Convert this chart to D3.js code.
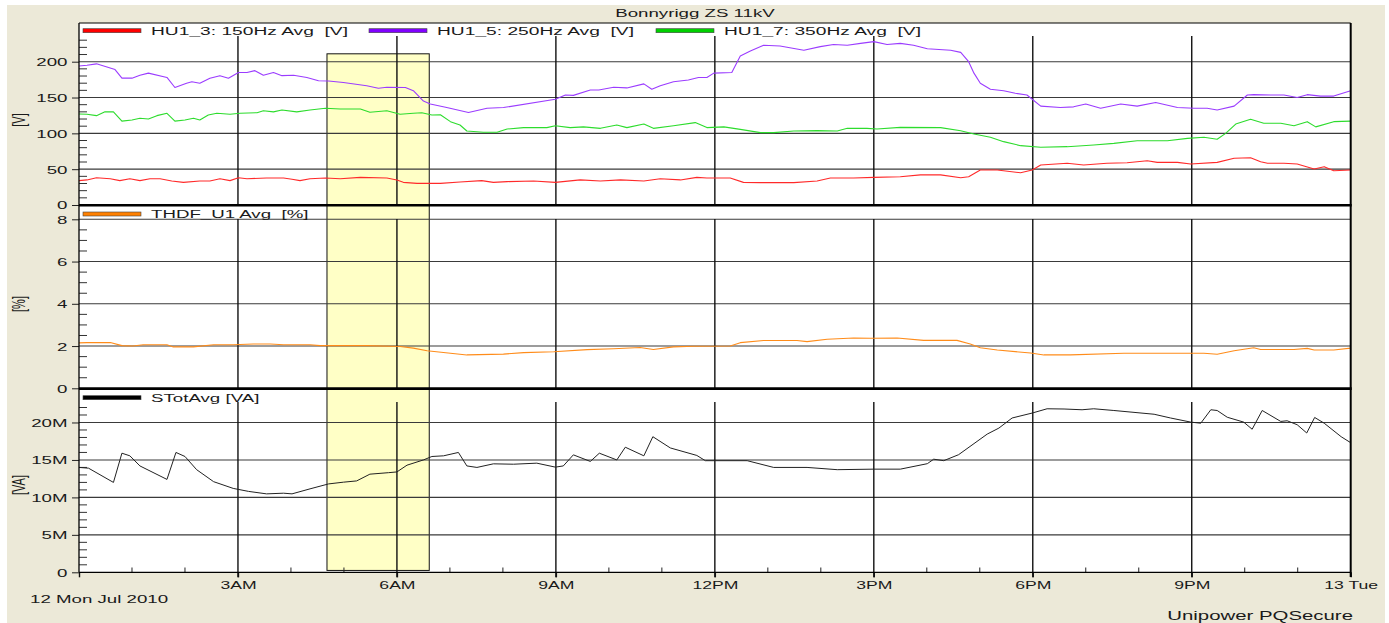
<!DOCTYPE html>
<html>
<head>
<meta charset="utf-8">
<script src="https://cdn.jsdelivr.net/npm/d3@7"></script>
<style>
  body { margin: 0; background: #ffffff; }
  text { font-family: "Liberation Sans", Arial, sans-serif; font-size: 11px; fill: #1a1a1a; white-space: pre; }
</style>
</head>
<body>
<svg id="chart" width="1389" height="623"></svg>
<script>
// ---------------- DATA ----------------
const chartTitle = "Bonnyrigg ZS 11kV";
const startLabel = "12 Mon Jul 2010";
const footer = "Unipower PQSecure";
const xTickLabels = ["", "3AM", "6AM", "9AM", "12PM", "3PM", "6PM", "9PM", "13 Tue"];
const xTickHours = [0, 3, 6, 9, 12, 15, 18, 21, 24];

const voltageLegend = ["HU1_3: 150Hz Avg\u00a0\u00a0[V]", "HU1_5: 250Hz Avg\u00a0\u00a0[V]", "HU1_7: 350Hz Avg\u00a0\u00a0[V]"];
const thdLegend = "THDF_U1 Avg\u00a0\u00a0[%]";
const powerLegend = "STotAvg [VA]";

const voltageTicks = [0, 50, 100, 150, 200];
const thdTicks = [0, 2, 4, 6, 8];
const powerTicks = [0, 5e6, 10e6, 15e6, 20e6];

// highlighted interval (hours since midnight)
const highlightHours = [4.68, 6.61];

// [hour, volts]
const hu1_3 = [[0,34],[0.15,35],[0.33,38],[0.59,36.7],[0.77,34],[0.96,36.7],[1.15,34],[1.34,36.7],[1.53,36.7],[1.75,33.5],[1.97,31.6],[2.28,33.5],[2.47,33.5],[2.66,36.7],[2.85,34],[3.01,38],[3.17,36.7],[3.54,37.7],[3.86,37.7],[4.02,36],[4.17,34],[4.36,36.7],[4.65,37.7],[4.93,36.7],[5.31,38.6],[5.81,37.7],[6.0,35],[6.12,31.6],[6.38,30.2],[6.82,30.2],[7.19,32],[7.6,34],[7.82,31.6],[8.08,32.6],[8.58,33.5],[8.99,31.6],[9.46,35],[9.84,33.5],[10.22,35],[10.66,33.5],[10.97,36.7],[11.35,35],[11.66,38.6],[11.85,37.7],[12.29,37.7],[12.54,31.6],[12.86,31.2],[13.49,31.2],[13.93,33.5],[14.18,37.7],[14.62,37.7],[15.0,38.6],[15.5,39.5],[15.88,42],[16.26,42],[16.64,38],[16.79,39.5],[17.01,48.8],[17.33,48.8],[17.77,45],[17.99,48.8],[18.15,55.8],[18.65,58.2],[18.96,55.8],[19.4,58.2],[19.78,59],[20.16,61.8],[20.35,59.5],[20.73,59.5],[20.98,57.2],[21.48,59.5],[21.8,65.2],[22.11,66],[22.3,60.4],[22.43,58.2],[22.74,58.2],[22.99,57.2],[23.31,50.2],[23.5,53.5],[23.68,47.9],[24,48.8]];

const hu1_5 = [[0,194],[0.15,195],[0.33,197],[0.68,189],[0.81,177],[1.0,177],[1.15,181],[1.31,184],[1.66,178],[1.81,164],[2.03,170],[2.13,172],[2.28,170],[2.47,177],[2.66,180.5],[2.82,177],[3.01,185],[3.17,185],[3.32,187.5],[3.48,181],[3.67,185],[3.83,180.5],[4.05,181],[4.3,178],[4.52,173.5],[4.71,173],[4.99,171],[5.43,166.5],[5.65,163],[5.81,164.3],[6.16,164],[6.31,159.5],[6.5,145],[6.63,141],[6.94,136],[7.35,129],[7.7,135],[8.01,136],[8.99,147.5],[9.18,153.5],[9.33,153],[9.65,160.5],[9.81,160.5],[10.09,164.3],[10.34,163.4],[10.66,169],[10.81,161.5],[10.97,166.5],[11.22,172],[11.5,174.5],[11.69,178],[11.85,178],[11.98,184],[12.32,185],[12.48,208],[12.67,215],[12.92,223],[13.23,222],[13.68,216],[13.99,221],[14.24,224],[14.5,223],[14.75,225.6],[15.0,228],[15.25,224],[15.5,225.6],[15.75,223],[16.01,218],[16.45,216],[16.64,213],[16.79,200],[16.89,184],[17.01,170],[17.2,161.5],[17.45,159.5],[17.67,156],[17.89,153.5],[18.15,138],[18.52,136],[18.77,137],[19.0,141],[19.28,135],[19.66,141],[19.97,138],[20.32,143],[20.73,136],[21.04,135],[21.29,135],[21.48,132.6],[21.8,138],[22.05,153.5],[22.17,154],[22.49,153.5],[22.74,153.5],[22.99,150],[23.18,154],[23.43,152],[23.68,152],[24,159.5]];

const hu1_7 = [[0,127],[0.15,126.6],[0.33,124.7],[0.49,130],[0.65,130],[0.81,117],[1.0,118.6],[1.15,121],[1.31,120],[1.47,124.7],[1.66,128],[1.81,117],[2.0,118.6],[2.16,121],[2.28,118.6],[2.44,125.6],[2.6,128],[2.85,126.6],[3.04,128],[3.36,128.8],[3.48,131.6],[3.67,130],[3.83,132.6],[4.11,130],[4.36,132.6],[4.65,135],[4.93,134],[5.31,134],[5.49,129.4],[5.81,131.6],[6.06,126.6],[6.31,128],[6.47,128.8],[6.66,125.6],[6.82,126],[7.01,116.3],[7.19,111.7],[7.32,103.3],[7.63,101.5],[7.89,101.5],[8.08,106],[8.39,108],[8.83,108],[8.99,110.7],[9.27,108],[9.52,109],[9.84,107],[10.15,111.7],[10.34,108],[10.66,113],[10.84,107],[11.22,110.7],[11.63,115],[11.85,108],[12.17,109],[12.48,105.6],[12.86,101],[13.11,101],[13.49,103.3],[13.93,103.8],[14.31,103.3],[14.5,107],[14.87,107],[15.06,106],[15.5,108.4],[16.26,108],[16.64,103.7],[16.89,99],[17.2,94.5],[17.45,88.4],[17.77,82.8],[18.15,80.5],[18.65,81.4],[19.15,83.7],[19.53,86],[19.97,89.7],[20.54,89.7],[20.92,93],[21.23,94.5],[21.48,91.7],[21.64,100],[21.83,113],[22.11,119.6],[22.36,114],[22.68,114],[22.93,110.7],[23.18,116.3],[23.34,109],[23.68,116.3],[24,117]];

// [hour, %]
const thdfU1 = [[0,2.15],[0.15,2.16],[0.59,2.17],[0.81,2.02],[1.02,2.0],[1.21,2.06],[1.66,2.06],[1.78,1.96],[2.16,1.96],[2.54,2.06],[2.91,2.06],[3.29,2.1],[3.61,2.1],[3.86,2.06],[4.36,2.06],[4.55,2.02],[5.43,2.02],[6.06,1.98],[6.31,1.9],[6.57,1.78],[7.01,1.66],[7.32,1.58],[8.01,1.62],[8.39,1.69],[8.96,1.73],[9.59,1.83],[10.09,1.87],[10.59,1.93],[10.84,1.84],[11.22,1.96],[11.6,1.99],[12.29,2.0],[12.48,2.16],[12.92,2.26],[13.55,2.26],[13.74,2.21],[14.12,2.32],[14.62,2.38],[14.94,2.37],[15.44,2.38],[15.94,2.27],[16.57,2.27],[16.82,2.1],[17.01,1.92],[17.33,1.81],[17.96,1.67],[18.21,1.58],[18.71,1.58],[19.72,1.66],[21.23,1.66],[21.48,1.61],[21.8,1.78],[22.17,1.92],[22.3,1.84],[22.93,1.84],[23.18,1.89],[23.31,1.81],[23.68,1.81],[24,1.9]];

// [hour, MVA]
const sTotAvg = [[0,14.0],[0.18,13.9],[0.65,12.0],[0.81,15.9],[0.96,15.55],[1.15,14.2],[1.66,12.4],[1.83,16.0],[2.0,15.46],[2.22,13.7],[2.54,12.1],[2.91,11.2],[3.2,10.8],[3.54,10.47],[3.86,10.56],[4.02,10.47],[4.36,11.14],[4.71,11.8],[4.99,12.03],[5.24,12.2],[5.49,13.1],[5.84,13.3],[6.0,13.4],[6.19,14.3],[6.5,15.0],[6.66,15.46],[6.88,15.55],[7.16,16.0],[7.32,14.2],[7.51,14.0],[7.82,14.48],[8.2,14.43],[8.64,14.57],[8.99,14.04],[9.14,14.2],[9.33,15.68],[9.65,14.8],[9.82,15.9],[10.15,15.0],[10.31,16.7],[10.66,15.55],[10.83,18.1],[11.16,16.6],[11.66,15.6],[11.82,14.9],[12.61,14.9],[13.11,14.0],[13.74,14.0],[14.31,13.7],[15.0,13.77],[15.5,13.77],[16.01,14.5],[16.13,15.1],[16.32,14.9],[16.6,15.7],[17.14,18.45],[17.36,19.25],[17.61,20.6],[17.99,21.26],[18.27,21.83],[18.59,21.8],[18.93,21.7],[19.15,21.83],[19.53,21.6],[20.29,21.1],[20.6,20.6],[20.98,20.05],[21.17,19.9],[21.36,21.7],[21.48,21.6],[21.67,20.7],[21.98,20.05],[22.14,19.1],[22.33,21.6],[22.68,20.14],[22.8,20.23],[22.99,19.7],[23.17,18.6],[23.32,20.67],[23.5,19.9],[23.82,18.1],[24,17.3]];

// ---------------- LAYOUT / STYLE ----------------
const SX = 1.7;   // horizontal stretch of the text, as in the reference
const SXT = 1.6;  // stretch of the time-axis labels
const L = 79, R = 1350.7;
const svg = d3.select("#chart");

const base = new Date(2010, 6, 12, 0, 0, 0);
const toDate = h => new Date(base.getTime() + h * 3600000);
const x = d3.scaleTime().domain([toDate(0), toDate(24)]).range([L, R]);

const yV = d3.scaleLinear().domain([0, 254]).range([205, 23]);
const yP = d3.scaleLinear().domain([0, 8.63]).range([388.3, 206]);
const yS = d3.scaleLinear().domain([0, 24.47e6]).range([572.3, 389]);

function label(g, px, py, str, anchor, rotate, size) {
  return g.append("text")
    .attr("transform", `translate(${px},${py}) scale(${SX},1)` + (rotate ? " rotate(-90)" : ""))
    .attr("text-anchor", anchor || "start")
    .style("font-size", (size || 11) + "px")
    .text(str);
}

// background
svg.append("rect").attr("x", 0).attr("y", 0).attr("width", 1389).attr("height", 623).attr("fill", "#ffffff");
svg.append("rect").attr("x", 7).attr("y", 5).attr("width", 1378).attr("height", 618).attr("fill", "#ECE9D8");
svg.append("rect").attr("x", L).attr("y", 23).attr("width", R - L).attr("height", 572.3 - 23).attr("fill", "#ffffff");

// highlight
svg.append("rect")
  .attr("x", x(toDate(highlightHours[0])))
  .attr("y", yV(211))
  .attr("width", x(toDate(highlightHours[1])) - x(toDate(highlightHours[0])))
  .attr("height", yS(0.25e6) - yV(211))
  .attr("fill", "#FFFFC6").attr("stroke", "#111").attr("stroke-width", 1);

const panels = [
  { y: yV, ticks: voltageTicks, minor: d3.range(10, 254, 10), gridTop: 36, fmt: d => String(d), unit: "[V]", unitY: 120 },
  { y: yP, ticks: thdTicks, minor: d3.range(0.5, 8.6, 0.5), gridTop: 219, fmt: d => String(d), unit: "[%]", unitY: 304 },
  { y: yS, ticks: powerTicks, minor: d3.range(1e6, 24.4e6, 1e6), gridTop: 402, fmt: d => d === 0 ? "0" : (d / 1e6) + "M", unit: "[VA]", unitY: 485 }
];

const grid = svg.append("g");
const axes = svg.append("g");

panels.forEach(p => {
  const bottom = p.y(0);
  p.ticks.filter(t => t > 0).forEach(t => {
    grid.append("line").attr("x1", L).attr("x2", R).attr("y1", p.y(t)).attr("y2", p.y(t))
      .attr("stroke", "#3a3a3a").attr("stroke-width", 1.1);
  });
  xTickHours.slice(1, -1).forEach(h => {
    grid.append("line").attr("x1", x(toDate(h))).attr("x2", x(toDate(h)))
      .attr("y1", p.gridTop).attr("y2", bottom + (p.y === yS ? 5 : 0))
      .attr("stroke", "#111").attr("stroke-width", 1.4);
  });
  p.minor.filter(v => !p.ticks.includes(Math.round(v * 1000) / 1000) && p.y(v) > p.gridTop - 1).forEach(v => {
    grid.append("line").attr("x1", L).attr("x2", L + 8).attr("y1", p.y(v)).attr("y2", p.y(v))
      .attr("stroke", "#333").attr("stroke-width", 1);
  });
  const ax = axes.append("g").attr("transform", `translate(${L},0)`)
    .call(d3.axisLeft(p.y).tickValues(p.ticks).tickSize(7).tickFormat(p.fmt));
  ax.select(".domain").remove();
  ax.selectAll(".tick line").attr("stroke", "#222");
  ax.selectAll(".tick text")
    .attr("x", -11.5 / SX).attr("dy", "0.36em")
    .attr("transform", `scale(${SX},1)`)
    .style("font-family", '"Liberation Sans", Arial, sans-serif').style("font-size", "11px").attr("fill", "#1a1a1a");
  label(axes, 25, p.unitY, p.unit, "middle", true);
});

// hourly minor ticks on the time axis
d3.range(1, 24).filter(h => h % 3 !== 0).forEach(h => {
  grid.append("line").attr("x1", x(toDate(h))).attr("x2", x(toDate(h)))
    .attr("y1", 572.3).attr("y2", 567.5).attr("stroke", "#222").attr("stroke-width", 1);
});

// series lines
const lines = svg.append("g").attr("fill", "none").attr("stroke-linejoin", "round");
const lineV = d3.line().x(d => x(toDate(d[0]))).y(d => yV(d[1]));
const lineP = d3.line().x(d => x(toDate(d[0]))).y(d => yP(d[1]));
const lineS = d3.line().x(d => x(toDate(d[0]))).y(d => yS(d[1] * 1e6));
lines.append("path").attr("d", lineV(hu1_3)).attr("stroke", "#ff2a2a").attr("stroke-width", 1.1);
lines.append("path").attr("d", lineV(hu1_5)).attr("stroke", "#9b3cff").attr("stroke-width", 1.1);
lines.append("path").attr("d", lineV(hu1_7)).attr("stroke", "#2ddc2d").attr("stroke-width", 1.1);
lines.append("path").attr("d", lineP(thdfU1)).attr("stroke", "#ff8c1a").attr("stroke-width", 1.1);
lines.append("path").attr("d", lineS(sTotAvg)).attr("stroke", "#222").attr("stroke-width", 1);

// frame
const frame = svg.append("g").attr("stroke", "#000");
frame.append("line").attr("x1", L).attr("x2", R).attr("y1", 23).attr("y2", 23).attr("stroke-width", 1);
frame.append("line").attr("x1", L).attr("x2", L).attr("y1", 23).attr("y2", 572.3).attr("stroke-width", 1.3);
frame.append("line").attr("x1", R).attr("x2", R).attr("y1", 23).attr("y2", 577).attr("stroke-width", 2);
frame.append("line").attr("x1", L).attr("x2", R + 1).attr("y1", 205.3).attr("y2", 205.3).attr("stroke-width", 2.6);
frame.append("line").attr("x1", L).attr("x2", R + 1).attr("y1", 388.6).attr("y2", 388.6).attr("stroke-width", 2.8);
frame.append("line").attr("x1", L).attr("x2", R).attr("y1", 572.3).attr("y2", 572.3).attr("stroke-width", 1.2);

// time axis labels
const xa = axes.append("g").attr("transform", "translate(0,572.3)")
  .call(d3.axisBottom(x).tickValues(xTickHours.map(toDate)).tickSize(5).tickFormat((d, i) => xTickLabels[i]));
xa.select(".domain").remove();
xa.selectAll(".tick line").attr("stroke", "#111").attr("stroke-width", 1.4);
xa.selectAll(".tick text")
  .attr("y", 17.2).attr("dy", 0)
  .attr("transform", `scale(${SXT},1)`)
  .style("font-family", '"Liberation Sans", Arial, sans-serif').style("font-size", "11px").attr("fill", "#1a1a1a");

// texts
const texts = svg.append("g");
label(texts, 695, 16.5, chartTitle, "middle");
label(texts, 30, 603, startLabel, "start");
label(texts, 1353, 620, footer, "end", false, 12);

// legends
const legend = svg.append("g");
function legendItem(x0, yMid, color, str, fitWidth) {
  legend.append("rect").attr("x", x0).attr("y", yMid - 2).attr("width", 58).attr("height", 4)
    .attr("fill", color).attr("stroke", "#444").attr("stroke-width", 0.6);
  const t = label(legend, x0 + 68, yMid + 4.2, str, "start");
  if (fitWidth) t.attr("textLength", fitWidth / SX).attr("lengthAdjust", "spacingAndGlyphs");
}
legendItem(83, 30.7, "#ff0000", voltageLegend[0], 197);
legendItem(369, 30.7, "#8000ff", voltageLegend[1], 197);
legendItem(656, 30.7, "#00d000", voltageLegend[2], 197);
legendItem(83, 214, "#ff8000", thdLegend);
legendItem(83, 397.7, "#000000", powerLegend);
</script>
</body>
</html>
